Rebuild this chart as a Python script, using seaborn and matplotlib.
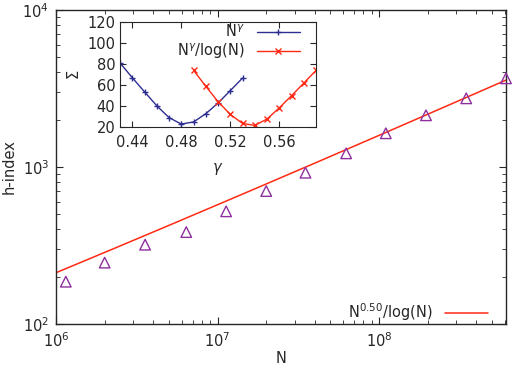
import numpy as np
import pandas as pd
import matplotlib
matplotlib.use("Agg")
import matplotlib.pyplot as plt
import seaborn as sns

# main panel: h-index vs N
n_values = [1.15e6, 2.0e6, 3.56e6, 6.4e6, 1.13e7, 2.0e7, 3.5e7, 6.25e7,
            1.1e8, 1.95e8, 3.46e8, 6.1e8]
h_values = [186, 246, 320, 385, 522, 703, 920, 1222, 1640, 2135, 2738, 3672]

# fitted curve h = c * N^0.50 / log(N)
fit_exponent = 0.50
fit_coef = 2.93

# inset: sum of squared deviations vs gamma
gamma_a = [0.43, 0.44, 0.45, 0.46, 0.47, 0.48, 0.49, 0.50, 0.51, 0.52, 0.53]
sigma_a = [81, 67, 53.5, 40.2, 29, 22.8, 24.8, 32.6, 42.8, 54.6, 66.6]
gamma_b = [0.49, 0.50, 0.51, 0.52, 0.53, 0.54, 0.55, 0.56, 0.57, 0.58, 0.59]
sigma_b = [74, 58.8, 44.2, 32, 23.4, 21.5, 27.6, 38.2, 49.8, 61.8, 73.9]

sns.set_style("ticks")
plt.rcParams["font.family"] = ["DejaVu Sans"]
plt.rcParams["xtick.direction"] = "in"
plt.rcParams["ytick.direction"] = "in"
plt.rcParams["xtick.top"] = True
plt.rcParams["ytick.right"] = True

blue = "#2e2e92"
red = "#ff2a14"
purple = "#8e2f9e"

fig = plt.figure(figsize=(5.12, 3.68), dpi=100)
ax = fig.add_axes([0.1094, 0.1196, 0.8789, 0.8532])

df = pd.DataFrame({"N": n_values, "h": h_values})
n_grid = np.logspace(6, np.log10(6.1e8), 200)
fit_df = pd.DataFrame({"N": n_grid,
                       "h": fit_coef * n_grid ** fit_exponent / np.log(n_grid)})

sns.lineplot(data=fit_df, x="N", y="h", ax=ax, color=red, linewidth=1.1,
             label=r"N$^{0.50}$/log(N)")
sns.scatterplot(data=df, x="N", y="h", ax=ax, marker="^", s=58,
                facecolor="none", edgecolor=purple, linewidth=1.0,
                clip_on=False, zorder=3)
ax.set_xscale("log")
ax.set_yscale("log")
ax.set_xlim(1e6, 6.1e8)
ax.set_ylim(1e2, 1e4)
ax.set_xlabel("N", fontsize=10.5, labelpad=1)
ax.set_ylabel("h-index", fontsize=10.5, labelpad=4)
ax.tick_params(which="major", length=5, labelsize=10.5)
ax.tick_params(axis="x", which="major", pad=5)
ax.tick_params(axis="y", which="major", pad=5)
ax.tick_params(which="minor", length=3)
for s in ax.spines.values():
    s.set_linewidth(1.0)
ax.legend(loc="lower right", frameon=False, markerfirst=False, fontsize=10.5,
          handlelength=3.0, bbox_to_anchor=(0.99, -0.04))

# inset
ins = fig.add_axes([0.2344, 0.6549, 0.3828, 0.2853])
ins_a = pd.DataFrame({"g": gamma_a, "s": sigma_a})
ins_b = pd.DataFrame({"g": gamma_b, "s": sigma_b})
sns.lineplot(data=ins_a, x="g", y="s", ax=ins, color=blue, linewidth=1.0,
             marker="+", markersize=5, markeredgewidth=1.0,
             markeredgecolor=blue, label=r"N$^{\gamma}$")
sns.lineplot(data=ins_b, x="g", y="s", ax=ins, color=red, linewidth=1.0,
             marker="x", markersize=4.5, markeredgewidth=1.0,
             markeredgecolor=red, label=r"N$^{\gamma}$/log(N)")
ins.set_xlim(0.43, 0.59)
ins.set_ylim(20, 120)
ins.set_xticks([0.44, 0.48, 0.52, 0.56])
ins.set_yticks([20, 40, 60, 80, 100, 120])
ins.set_xlabel(r"$\gamma$", fontsize=10.5, labelpad=8)
ins.set_ylabel(r"$\Sigma$", fontsize=10.5)
ins.tick_params(length=4, labelsize=10.5)
ins.tick_params(axis="x", pad=6)
ins.legend(loc="upper right", frameon=False, markerfirst=False, fontsize=10.5,
           handlelength=3.0, labelspacing=0.1, borderaxespad=0.0,
           bbox_to_anchor=(0.95, 1.04))

fig.savefig("out.png", dpi=100)
